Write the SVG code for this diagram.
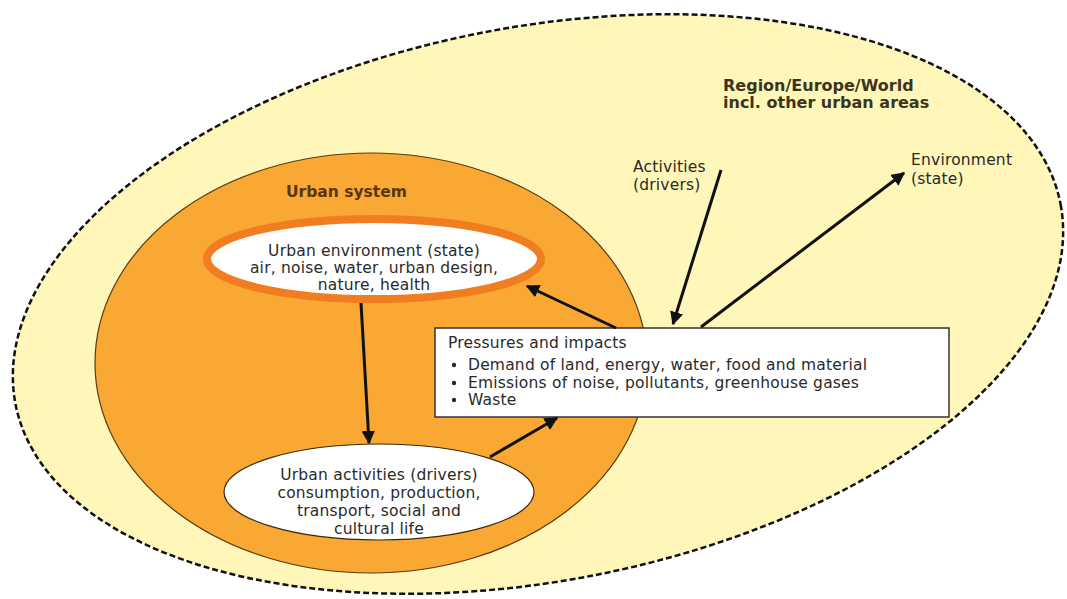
<svg xmlns="http://www.w3.org/2000/svg" width="1067" height="599" viewBox="0 0 1067 599">
<defs>
<marker id="ah" viewBox="0 0 10 10" refX="9" refY="5" markerWidth="4.5" markerHeight="4.5" orient="auto" markerUnits="strokeWidth">
<path d="M0,0 L10,5 L0,10 z" fill="#111"/>
</marker>
<style>
.t{font-family:"DejaVu Sans",Verdana,sans-serif;font-size:15.5px;letter-spacing:0.2px;fill:#2a2a2a}
.b{font-family:"DejaVu Sans",Verdana,sans-serif;font-size:16px;font-weight:bold}
.c{text-anchor:middle}
.arr{stroke:#111;stroke-width:3;fill:none;marker-end:url(#ah)}
</style>
</defs>
<rect width="1067" height="599" fill="#ffffff"/>
<g id="region">
<ellipse cx="538" cy="304" rx="532" ry="277" transform="rotate(-10.8 538 304)" fill="#FFF6B9" stroke="#111" stroke-width="2.5" stroke-dasharray="6 3"/>
<text class="b" x="723" y="91" fill="#3b3520">Region/Europe/World</text>
<text class="b" x="723" y="108" fill="#3b3520">incl. other urban areas</text>
</g>
<g id="urban-system">
<ellipse cx="371" cy="363" rx="276" ry="210" fill="#F8A833" stroke="#5a3a10" stroke-width="1.2"/>
<text class="b" x="286" y="197" fill="#5a3510" style="font-size:15.5px">Urban system</text>
</g>
<g id="urban-environment">
<ellipse cx="374" cy="259" rx="167" ry="40" fill="#ffffff" stroke="#F07D20" stroke-width="8"/>
<text class="t c" x="374" y="256">Urban environment (state)</text>
<text class="t c" x="374" y="273">air, noise, water, urban design,</text>
<text class="t c" x="374" y="290">nature, health</text>
</g>
<g id="urban-activities">
<ellipse cx="379" cy="492" rx="155" ry="48" fill="#ffffff" stroke="#3a2a10" stroke-width="1.2"/>
<text class="t c" x="379" y="480">Urban activities (drivers)</text>
<text class="t c" x="379" y="498">consumption, production,</text>
<text class="t c" x="379" y="516">transport, social and</text>
<text class="t c" x="379" y="534">cultural life</text>
</g>
<g id="pressures">
<rect x="435" y="328" width="514" height="89" fill="#ffffff" stroke="#333" stroke-width="1.5"/>
<text class="t" x="448" y="348">Pressures and impacts</text>
<circle cx="454" cy="365" r="2.2" fill="#2a2a2a"/>
<circle cx="454" cy="383" r="2.2" fill="#2a2a2a"/>
<circle cx="454" cy="400" r="2.2" fill="#2a2a2a"/>
<text class="t" x="468" y="370">Demand of land, energy, water, food and material</text>
<text class="t" x="468" y="388">Emissions of noise, pollutants, greenhouse gases</text>
<text class="t" x="468" y="405">Waste</text>
</g>
<g id="activities-label">
<text class="t" x="633" y="172">Activities</text>
<text class="t" x="633" y="190">(drivers)</text>
</g>
<g id="environment-label">
<text class="t" x="911" y="165">Environment</text>
<text class="t" x="911" y="184">(state)</text>
</g>
<g id="connectors">
<line class="arr" x1="616" y1="328" x2="527" y2="286"/>
<line class="arr" x1="721" y1="170" x2="673" y2="324"/>
<line class="arr" x1="701" y1="327" x2="904" y2="173"/>
<line class="arr" x1="361" y1="303" x2="369" y2="443"/>
<line class="arr" x1="490" y1="457" x2="557" y2="418"/>
</g>
</svg>
